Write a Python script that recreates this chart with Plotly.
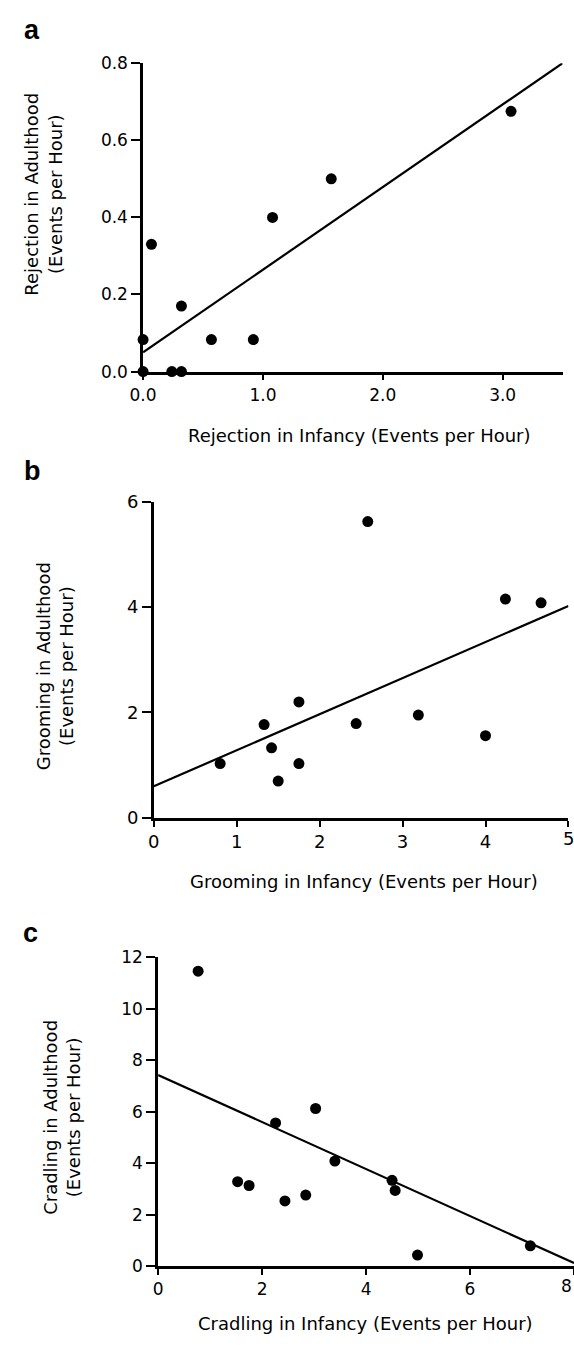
import plotly.graph_objects as go

# ---------------- data ----------------
# Panel a: Rejection
rej_infancy = [0.0, 0.0, 0.07, 0.24, 0.32, 0.32, 0.57, 0.92, 1.08, 1.57, 3.07]
rej_adult = [0.083, 0.0, 0.33, 0.0, 0.0, 0.17, 0.083, 0.083, 0.40, 0.50, 0.675]
rej_fit_x = [0.0, 3.5]
rej_fit_y = [0.05, 0.80]

# Panel b: Grooming
groom_infancy = [0.80, 1.33, 1.42, 1.50, 1.75, 1.75, 2.44, 2.58, 3.19, 4.00, 4.24, 4.67]
groom_adult = [1.03, 1.77, 1.33, 0.70, 2.20, 1.03, 1.79, 5.62, 1.95, 1.56, 4.15, 4.08]
groom_fit_x = [0.0, 5.0]
groom_fit_y = [0.60, 4.02]

# Panel c: Cradling
cradle_infancy = [0.77, 1.53, 1.75, 2.26, 2.44, 2.84, 3.03, 3.40, 4.50, 4.56, 4.99, 7.16]
cradle_adult = [11.45, 3.28, 3.13, 5.56, 2.53, 2.76, 6.12, 4.08, 3.33, 2.94, 0.43, 0.79]
cradle_fit_x = [0.0, 8.0]
cradle_fit_y = [7.42, 0.12]

a_xticks = [0, 1, 2, 3]
a_xlabels = ["0.0", "1.0", "2.0", "3.0"]
a_yticks = [0, 0.2, 0.4, 0.6, 0.8]
a_ylabels = ["0.0", "0.2", "0.4", "0.6", "0.8"]
b_xticks = [0, 1, 2, 3, 4, 5]
b_yticks = [0, 2, 4, 6]
c_xticks = [0, 2, 4, 6, 8]
c_yticks = [0, 2, 4, 6, 8, 10, 12]

W, H = 574, 1348
FONT = "DejaVu Sans"


def px_x(p):
    return p / W


def px_y(p):
    return 1 - p / H


fig = go.Figure()

panels = [
    ("", rej_infancy, rej_adult, rej_fit_x, rej_fit_y),
    ("2", groom_infancy, groom_adult, groom_fit_x, groom_fit_y),
    ("3", cradle_infancy, cradle_adult, cradle_fit_x, cradle_fit_y),
]
for suf, xs, ys, fx, fy in panels:
    fig.add_trace(go.Scatter(x=fx, y=fy, mode="lines", xaxis="x" + suf, yaxis="y" + suf,
                             line=dict(color="black", width=2.2), showlegend=False,
                             cliponaxis=False, hoverinfo="skip"))
    fig.add_trace(go.Scatter(x=xs, y=ys, mode="markers", xaxis="x" + suf, yaxis="y" + suf,
                             marker=dict(color="black", size=11), showlegend=False,
                             cliponaxis=False))

TICK_SIZE = 17
B_TICK_SIZE = 18
ax_common = dict(showline=True, linecolor="black", linewidth=2.5, showgrid=False,
                 zeroline=False, ticks="outside", tickcolor="black", tickwidth=2,
                 tickfont=dict(family=FONT, size=TICK_SIZE, color="black"), fixedrange=True,
                 layer="below traces")

# pixel geometry of each plot area: (left, right, top, bottom)
geo = {
    "": (132.3, 562.3, 53.0, 366.3),
    "2": (143.3, 568.3, 498.3, 819.7),
    "3": (147.7, 574.0, 961.0, 1275.0),
}

layout = dict(width=W, height=H, margin=dict(l=0, r=0, t=0, b=0),
              paper_bgcolor="white", plot_bgcolor="white", showlegend=False)

# the last x tick label of panels b and c sits on the page edge: drawn as annotations
b_xlabels = [str(v) for v in b_xticks[:-1]] + [""]
c_xlabels = [str(v) for v in c_xticks[:-1]] + [""]
xcfg = {
    "": dict(range=[0, 3.5], tickvals=a_xticks, ticktext=a_xlabels),
    "2": dict(range=[0, 5], tickvals=b_xticks, ticktext=b_xlabels),
    "3": dict(range=[0, 8], tickvals=c_xticks, ticktext=c_xlabels),
}
ycfg = {
    "": dict(range=[0, 0.8], tickvals=a_yticks, ticktext=a_ylabels),
    "2": dict(range=[0, 6], tickvals=b_yticks, ticktext=[str(v) for v in b_yticks]),
    "3": dict(range=[0, 12], tickvals=c_yticks, ticktext=[str(v) for v in c_yticks]),
}
for suf, (l, r, t, b) in geo.items():
    xa = dict(ax_common, domain=[px_x(l), min(px_x(r), 1.0)], anchor="y" + suf,
              ticklen=6, **xcfg[suf])
    ya = dict(ax_common, domain=[px_y(b), px_y(t)], anchor="x" + suf,
              ticklen=9, **ycfg[suf])
    if suf == "2":
        xa["tickfont"] = dict(family=FONT, size=B_TICK_SIZE, color="black")
        ya["tickfont"] = dict(family=FONT, size=B_TICK_SIZE, color="black")
    layout["xaxis" + suf] = xa
    layout["yaxis" + suf] = ya

annotations = []
annotations.append(dict(text=str(b_xticks[-1]), x=b_xticks[-1], y=0, xref="x2", yref="y2",
                        xanchor="center", yanchor="top", yshift=-8, showarrow=False,
                        font=dict(family=FONT, size=B_TICK_SIZE, color="black")))
annotations.append(dict(text=str(c_xticks[-1]), x=1.0, y=0, xref="paper", yref="y3",
                        xanchor="right", yanchor="top", yshift=-8, showarrow=False,
                        font=dict(family=FONT, size=TICK_SIZE, color="black")))
# panel letters
for letter, (x, y) in zip(["a", "b", "c"], [(18.5, 19), (18.5, 467), (17, 937)]):
    annotations.append(dict(text=letter, x=px_x(x), y=px_y(y), xref="paper", yref="paper",
                            xanchor="center", yanchor="middle", showarrow=False,
                            font=dict(family="Liberation Sans", size=27, color="black",
                                      weight="bold")))
# y titles
ytitles = [
    ("Rejection in Adulthood<br>(Events per Hour)", 30.3, 186),
    ("Grooming in Adulthood<br>(Events per Hour)", 41.5, 665),
    ("Cradling in Adulthood<br>(Events per Hour)", 49.0, 1123.5),
]
for txt, x, y in ytitles:
    annotations.append(dict(text=txt, x=px_x(x), y=px_y(y), xref="paper", yref="paper",
                            xanchor="center", yanchor="middle", showarrow=False,
                            textangle=-90, font=dict(family=FONT, size=18, color="black")))
# x titles
xtitles = [
    ("Rejection in Infancy (Events per Hour)", 354.5, 431.7),
    ("Grooming in Infancy (Events per Hour)", 359, 884),
    ("Cradling in Infancy (Events per Hour)", 360, 1333),
]
for txt, x, y in xtitles:
    annotations.append(dict(text=txt, x=px_x(x), y=px_y(y), xref="paper", yref="paper",
                            xanchor="center", yanchor="middle", showarrow=False,
                            font=dict(family=FONT, size=18, color="black")))
layout["annotations"] = annotations

fig.update_layout(**layout)
fig.write_html("out.html")
